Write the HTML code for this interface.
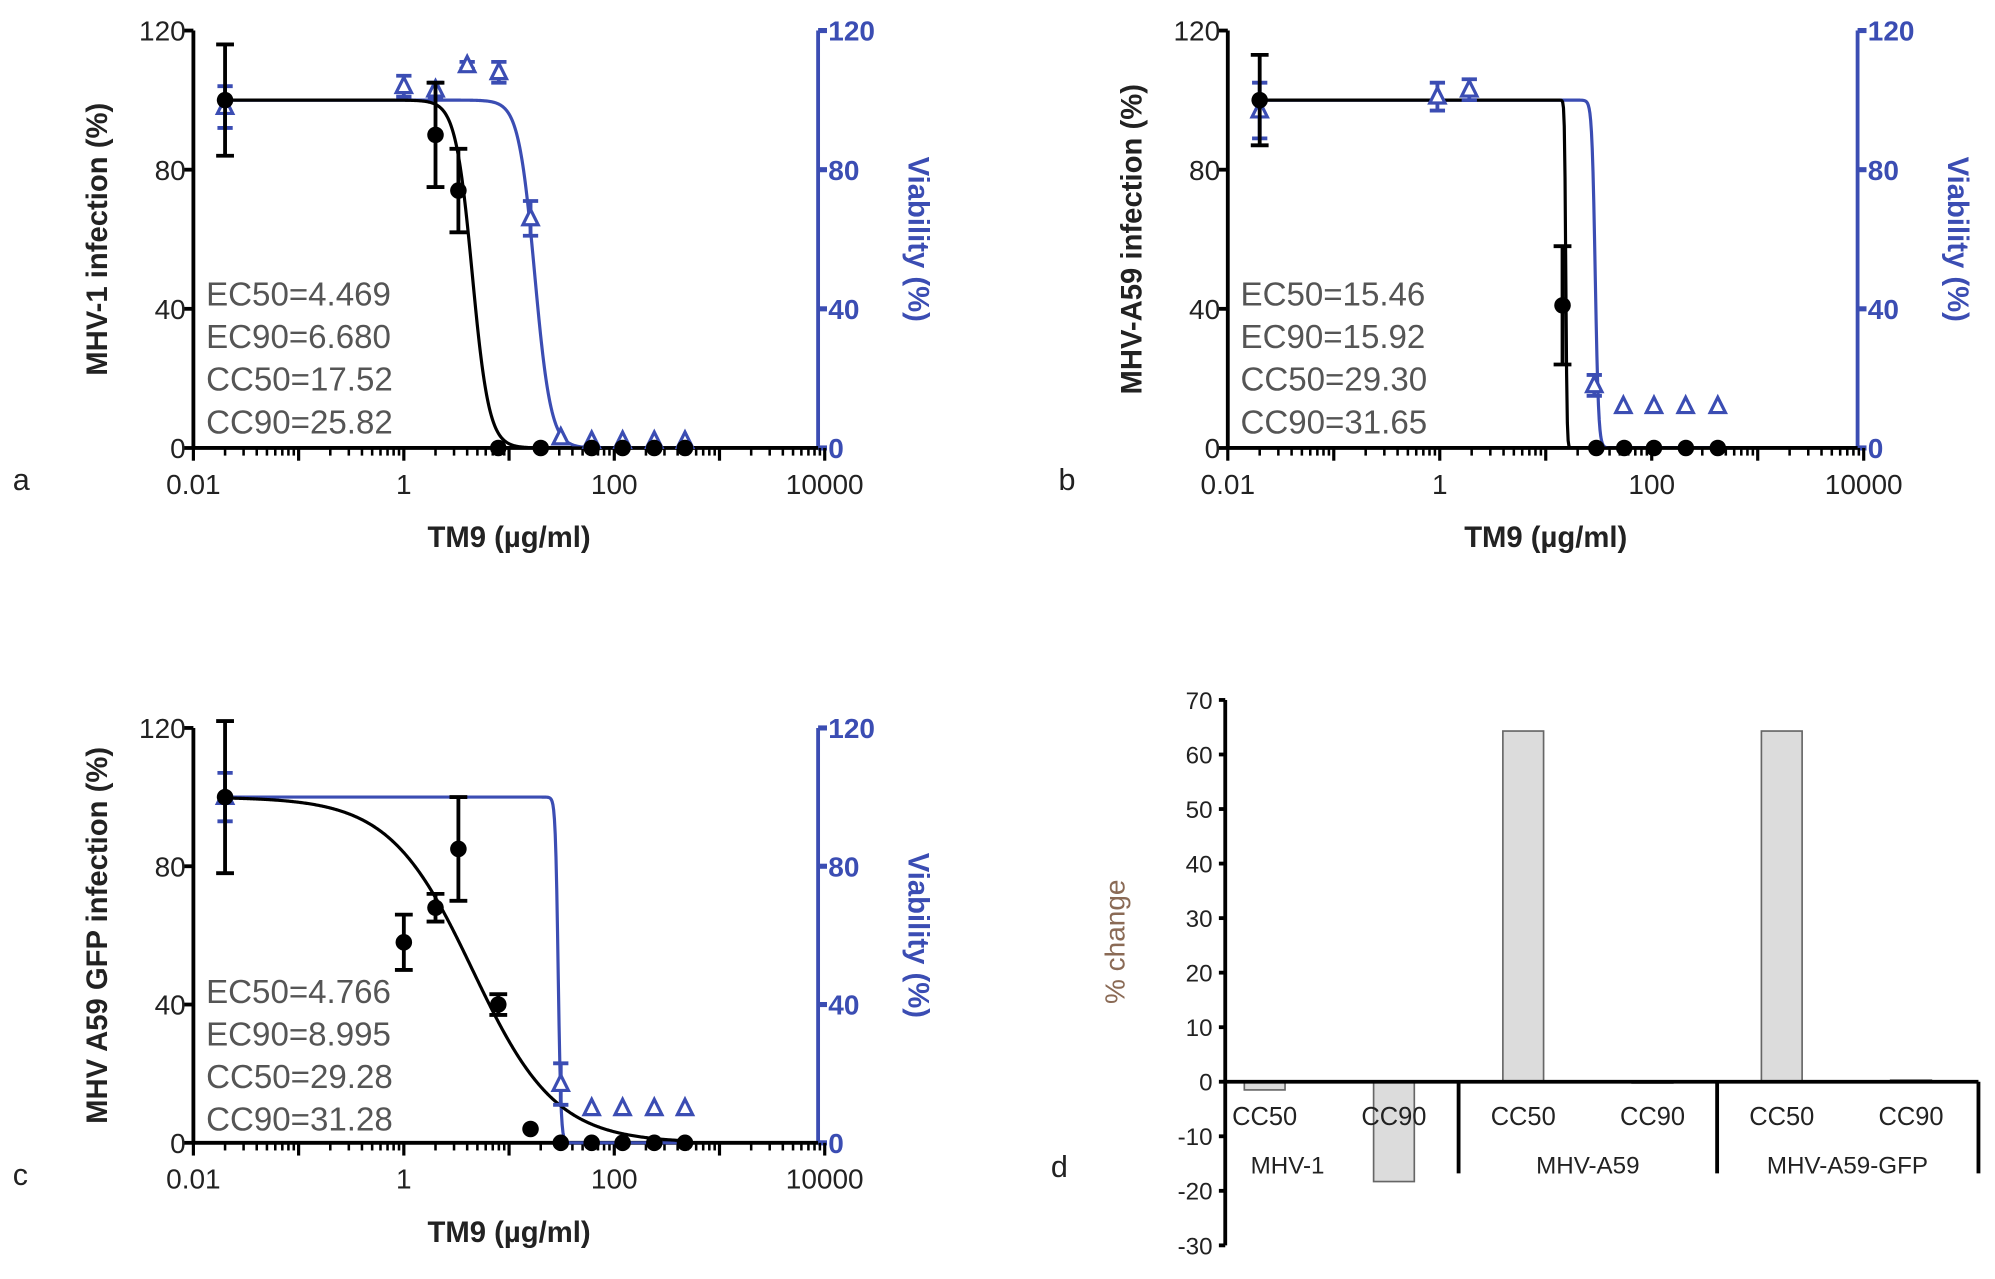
<!DOCTYPE html>
<html><head><meta charset="utf-8"><style>
html,body{margin:0;padding:0;background:#fff;}
svg{display:block;}
text{font-family:"Liberation Sans",Arial,sans-serif;}
</style></head><body>
<svg id="fig" width="1995" height="1279" viewBox="0 0 1568 1005" preserveAspectRatio="none" xmlns="http://www.w3.org/2000/svg"></svg>
<script>
// ---- Panel a data ----
const aInfX=[0.02,2.0,3.3,7.9,20,61,120,240,470];
const aInfY=[100,90,74,0,0,0,0,0,0];
const aInfE=[16,15,12,0,0,0,0,0,0];
const aVibX=[0.02,1,2,4,8,16,31,61,120,240,470];
const aVibY=[98,104,103,110,108,66,3,2,2,2,2];
const aVibE=[6,3,2,1,3,5,0,0,0,0,0];
const aText=["EC50=4.469","EC90=6.680","CC50=17.52","CC90=25.82"];
const aFit=[4.469,5.46,17.52,5.66];
// ---- Panel b data ----
const bInfX=[0.02,14.4,30,55,105,210,420];
const bInfY=[100,41,0,0,0,0,0];
const bInfE=[13,17,0,0,0,0,0];
const bVibX=[0.02,0.95,1.9,28.7,54,105,209,420];
const bVibY=[97,101,103,18,12,12,12,12];
const bVibE=[8,4,3,3,0,0,0,0];
const bText=["EC50=15.46","EC90=15.92","CC50=29.30","CC90=31.65"];
const bFit=[15.46,75,29.30,28];
// ---- Panel c data ----
const cInfX=[0.02,1,2,3.3,7.9,16,31,61,120,240,470];
const cInfY=[100,58,68,85,40,4,0,0,0,0,0];
const cInfE=[22,8,4,15,3,0,0,0,0,0,0];
const cVibX=[0.02,31,61,120,240,470];
const cVibY=[100,17,10,10,10,10];
const cVibE=[7,6,0,0,0,0];
const cText=["EC50=4.766","EC90=8.995","CC50=29.28","CC90=31.28"];
const cFit=[4.5,1.1,29.28,33];
// ---- Panel d data ----
const dCats=["CC50","CC90","CC50","CC90","CC50","CC90"];
const dGroups=["MHV-1","MHV-A59","MHV-A59-GFP"];
const dVals=[-1.5,-18.3,64.3,0,64.3,0.3];
const dTicks=[70,60,50,40,30,20,10,0,-10,-20,-30];

const svg=document.getElementById('fig');
const NS='http://www.w3.org/2000/svg';
function mk(tag,attrs,parent){const e=document.createElementNS(NS,tag);for(const k in attrs)e.setAttribute(k,attrs[k]);(parent||svg).appendChild(e);return e;}
const BLUE='#3b4db3';

function panel(P){
  const g=mk('g',{});
  
  
  const X=v=>P.ox+(Math.log10(v)+2)*P.dec;
  const Y=v=>P.yb-(v/120)*(P.yb-P.yt);
  const xEnd=P.ox+6*P.dec;
  const la=mk('line',{x1:P.ox,y1:P.yt,x2:P.ox,y2:P.yb,stroke:'#000','stroke-width':3},g);
  
  
  const ra=mk('line',{x1:P.rx,y1:P.yt,x2:P.rx,y2:P.yb,stroke:BLUE,'stroke-width':3},g);
  
  
  const xa=mk('line',{x1:P.ox,y1:P.yb,x2:xEnd,y2:P.yb,stroke:'#000','stroke-width':3},g);
  
  
  [0,40,80,120].forEach(v=>{
    mk('line',{x1:P.ox-7,y1:Y(v),x2:P.ox,y2:Y(v),stroke:'#000','stroke-width':3},g);
    const t=mk('text',{x:P.ox-6,y:Y(v)+8,'text-anchor':'end','font-size':22,fill:'#222'},g);t.textContent=v;
    
    
    mk('line',{x1:P.rx,y1:Y(v),x2:P.rx+7,y2:Y(v),stroke:BLUE,'stroke-width':4},g);
    const t2=mk('text',{x:P.rx+8,y:Y(v)+8,'font-size':22,fill:BLUE,'font-weight':'bold'},g);t2.textContent=v;
    
    
  });
  ['0.01','0.1','1','10','100','1000','10000'].forEach((s,i)=>{
    const x=P.ox+i*P.dec;
    mk('line',{x1:x,y1:P.yb,x2:x,y2:P.yb+10,stroke:'#000','stroke-width':2.5},g);
    for(let m=2;m<10&&i<6;m++){const xm=x+Math.log10(m)*P.dec;mk('line',{x1:xm,y1:P.yb,x2:xm,y2:P.yb+6,stroke:'#000','stroke-width':2},g);}
    if(i%2===0){const t=mk('text',{x:x,y:P.yb+36,'text-anchor':'middle','font-size':22,fill:'#222'},g);t.textContent=s;
      
      }
  });
  const lt=mk('text',{x:0,y:0,'text-anchor':'middle','font-size':23,'font-weight':'bold',fill:'#222',transform:`translate(${P.ox-68},${(P.yt+P.yb)/2}) rotate(-90)`},g);lt.textContent=P.ytitle;
  
  
  const rt=mk('text',{x:0,y:0,'text-anchor':'middle','font-size':23,'font-weight':'bold',fill:BLUE,transform:`translate(${P.rx+71},${(P.yt+P.yb)/2}) rotate(90)`},g);rt.textContent='Viability (%)';
  
  
  const xt=mk('text',{x:(P.ox+xEnd)/2,y:P.yb+78,'text-anchor':'middle','font-size':23,'font-weight':'bold',fill:'#222'},g);xt.textContent='TM9 (\u00b5g/ml)';
  
  
  const lb=mk('text',{x:P.lx,y:P.yb+33,'font-size':24,fill:'#222'},g);lb.textContent=P.letter;
  
  
  P.text.forEach((s,i)=>{const t=mk('text',{x:P.ox+10,y:P.yt+216+i*33.5,'font-size':26,fill:'#555'},g);t.textContent=s;
    
    });
  function curve(ec,h,col,name){
    let d='';
    for(let k=0;k<=600;k++){const lx=-1.7+k*(4.4/600);const v=Math.pow(10,lx);const y=100/(1+Math.pow(v/ec,h));d+=(k?'L':'M')+X(v).toFixed(2)+','+Y(y).toFixed(2);}
    const p=mk('path',{d:d,fill:'none',stroke:col,'stroke-width':2.5},g);
    
    
  }
  curve(P.fit[2],P.fit[3],BLUE,'viability-fit-curve');
  curve(P.fit[0],P.fit[1],'#000','infection-fit-curve');
  P.vx.forEach((v,i)=>{
    const x=X(v),y=Y(P.vy[i]),e=P.ve[i];
    if(e>0){const eb=mk('path',{d:`M${x},${Y(P.vy[i]+e)}V${Y(P.vy[i]-e)}M${x-6},${Y(P.vy[i]+e)}H${x+6}M${x-6},${Y(P.vy[i]-e)}H${x+6}`,stroke:BLUE,'stroke-width':3,fill:'none'},g);
      
      }
    const tr=mk('path',{d:`M${x},${y-7}L${x+6},${y+5}L${x-6},${y+5}Z`,fill:'#fff',stroke:BLUE,'stroke-width':2.5},g);
    
    
  });
  P.ix.forEach((v,i)=>{
    const x=X(v),y=Y(P.iy[i]),e=P.ie[i];
    if(e>0){const eb=mk('path',{d:`M${x},${Y(P.iy[i]+e)}V${Y(P.iy[i]-e)}M${x-7},${Y(P.iy[i]+e)}H${x+7}M${x-7},${Y(P.iy[i]-e)}H${x+7}`,stroke:'#000','stroke-width':3,fill:'none'},g);
      
      }
    const c=mk('circle',{cx:x,cy:y,r:6.5,fill:'#000'},g);
    
    
  });
}
panel({name:'panel-a',ox:152,rx:643,yt:24,yb:352,dec:82.7,lx:10,letter:'a',ytitle:'MHV-1 infection (%)',text:aText,fit:aFit,ix:aInfX,iy:aInfY,ie:aInfE,vx:aVibX,vy:aVibY,ve:aVibE});
panel({name:'panel-b',ox:965,rx:1460,yt:24,yb:352,dec:83.3,lx:832,letter:'b',ytitle:'MHV-A59 infection (%)',text:bText,fit:bFit,ix:bInfX,iy:bInfY,ie:bInfE,vx:bVibX,vy:bVibY,ve:bVibE});
panel({name:'panel-c',ox:152,rx:643,yt:572,yb:898,dec:82.7,lx:10,letter:'c',ytitle:'MHV A59 GFP infection (%)',text:cText,fit:cFit,ix:cInfX,iy:cInfY,ie:cInfE,vx:cVibX,vy:cVibY,ve:cVibE});

// ---- Panel d ----
(function(){
  const g=mk('g',{});
  
  
  const ax=963,y0=850,ppu=300/70,xr=1555,step=101.6,first=994;
  const Y=v=>y0-v*ppu;
  const X=i=>first+step*i;
  dVals.forEach((v,i)=>{
    const b=mk('rect',{x:X(i)-16,y:Math.min(Y(v),y0),width:32,height:Math.max(Math.abs(Y(v)-y0),1),fill:'#dcdcdc',stroke:'#666','stroke-width':1.3},g);
    
    
  });
  const ya=mk('line',{x1:ax,y1:Y(70),x2:ax,y2:Y(-30),stroke:'#000','stroke-width':3},g);
  
  
  dTicks.forEach(v=>{
    mk('line',{x1:ax-5,y1:Y(v),x2:ax,y2:Y(v),stroke:'#000','stroke-width':3},g);
    const t=mk('text',{x:ax-10,y:Y(v)+7,'text-anchor':'end','font-size':19,fill:'#222'},g);t.textContent=v;
    
    
  });
  const xa=mk('line',{x1:ax,y1:y0,x2:xr,y2:y0,stroke:'#000','stroke-width':3},g);
  
  
  [1,2,3].forEach(k=>{const sx=k<3?(X(2*k-1)+X(2*k))/2:xr;mk('line',{x1:sx,y1:y0,x2:sx,y2:y0+72,stroke:'#000','stroke-width':3},g);});
  dCats.forEach((c,i)=>{const t=mk('text',{x:X(i),y:y0+34,'text-anchor':'middle','font-size':20,fill:'#222'},g);t.textContent=c;
    
    });
  const gx=[1012,1248,1452];
  dGroups.forEach((s,k)=>{const t=mk('text',{x:gx[k],y:y0+72,'text-anchor':'middle','font-size':19,fill:'#222'},g);t.textContent=s;
    
    });
  const tt=mk('text',{x:0,y:0,'text-anchor':'middle','font-size':22,fill:'#8a6a55',transform:`translate(884,740) rotate(-90)`},g);tt.textContent='% change';
  
  
  const lb=mk('text',{x:826,y:925,'font-size':24,fill:'#222'},g);lb.textContent='d';
  
  
})();
</script>
</body></html>
